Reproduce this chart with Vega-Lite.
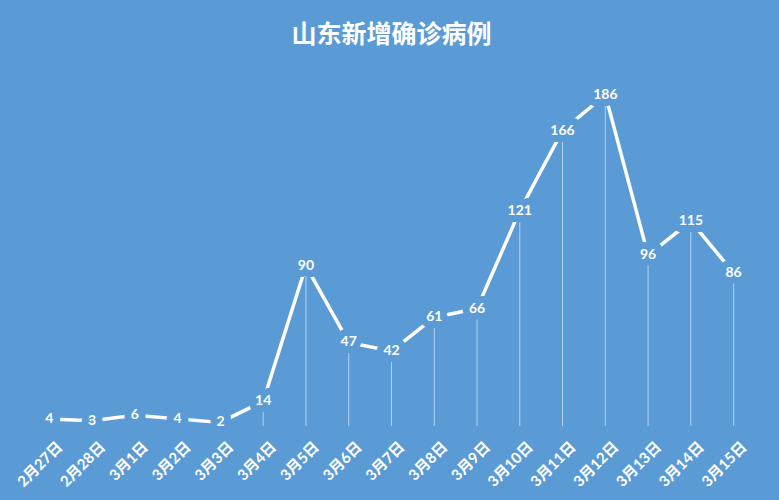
{
  "$schema": "https://vega.github.io/schema/vega-lite/v6.json",
  "autosize": "none",
  "width": 727,
  "height": 356,
  "padding": {"left": 28, "top": 70, "right": 24, "bottom": 74},
  "background": "#5B9BD5",
  "title": {
    "text": "山东新增确诊病例",
    "color": "white",
    "font": "Noto Sans CJK SC",
    "fontWeight": "bold",
    "fontSize": 25,
    "anchor": "middle",
    "offset": 22
  },
  "config": {
    "view": {"stroke": null},
    "axis": {"grid": false}
  },
  "data": {
    "values": [
      {"date": "2月27日", "cases": 4},
      {"date": "2月28日", "cases": 3},
      {"date": "3月1日", "cases": 6},
      {"date": "3月2日", "cases": 4},
      {"date": "3月3日", "cases": 2},
      {"date": "3月4日", "cases": 14},
      {"date": "3月5日", "cases": 90},
      {"date": "3月6日", "cases": 47},
      {"date": "3月7日", "cases": 42},
      {"date": "3月8日", "cases": 61},
      {"date": "3月9日", "cases": 66},
      {"date": "3月10日", "cases": 121},
      {"date": "3月11日", "cases": 166},
      {"date": "3月12日", "cases": 186},
      {"date": "3月13日", "cases": 96},
      {"date": "3月14日", "cases": 115},
      {"date": "3月15日", "cases": 86}
    ]
  },
  "encoding": {
    "x": {
      "field": "date",
      "type": "ordinal",
      "sort": null,
      "scale": {"type": "point", "padding": 0.5},
      "axis": {
        "title": null,
        "domain": false,
        "ticks": false,
        "labelAngle": -45,
        "labelColor": "white",
        "labelFont": "Lato, Noto Sans CJK SC",
        "labelFontWeight": "bold",
        "labelFontSize": 15,
        "labelPadding": 13,
        "labelOffset": 5
      }
    },
    "y": {
      "field": "cases",
      "type": "quantitative",
      "scale": {"domain": [0, 200]},
      "axis": null
    }
  },
  "layer": [
    {
      "mark": {"type": "rule", "color": "white", "strokeWidth": 1, "opacity": 0.55},
      "encoding": {"y2": {"datum": 0}}
    },
    {
      "mark": {"type": "line", "color": "white", "strokeWidth": 3.5}
    },
    {
      "mark": {
        "type": "text",
        "font": "Lato",
        "fontWeight": "bold",
        "fontSize": 14,
        "stroke": "#5B9BD5",
        "strokeWidth": 14,
        "strokeJoin": "round",
        "fill": "#5B9BD5"
      },
      "encoding": {"text": {"field": "cases", "type": "quantitative"}}
    },
    {
      "mark": {
        "type": "text",
        "font": "Lato",
        "fontWeight": "bold",
        "fontSize": 14,
        "color": "white"
      },
      "encoding": {"text": {"field": "cases", "type": "quantitative"}}
    }
  ]
}
